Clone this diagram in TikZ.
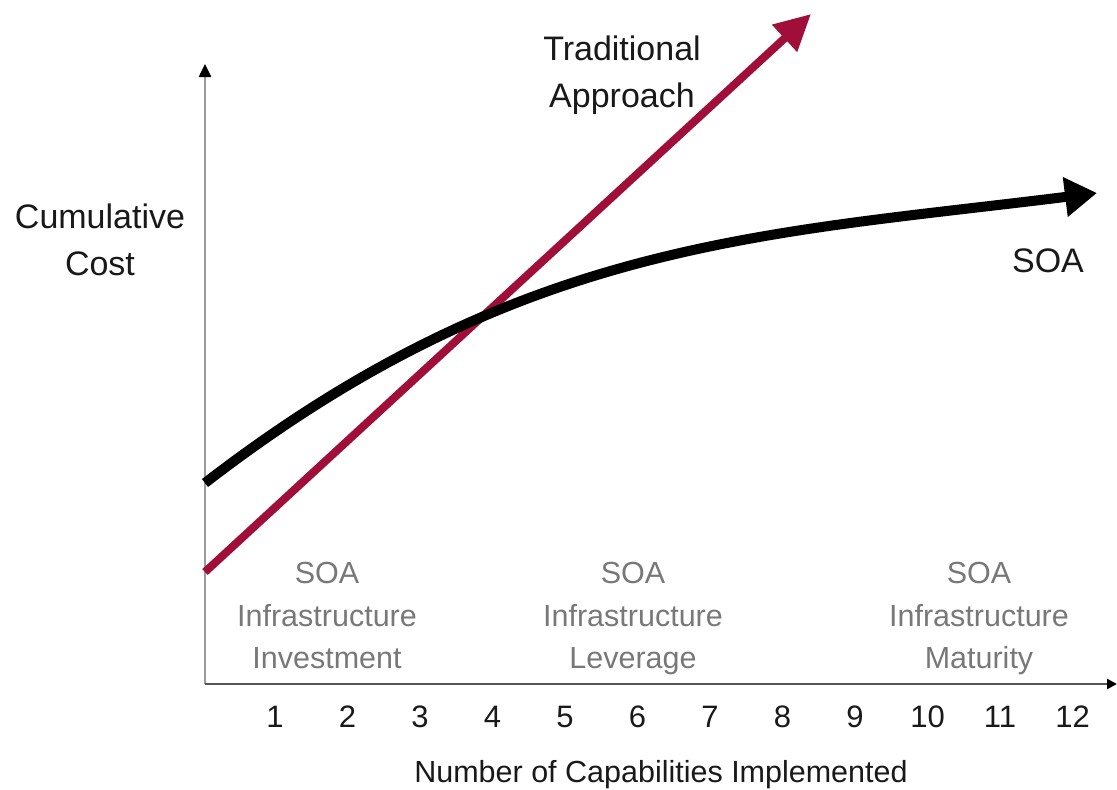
\documentclass[tikz,border=0pt]{standalone}
\usepackage{fontspec}
\setmainfont{Liberation Sans}
\usetikzlibrary{arrows.meta}
\definecolor{tradred}{RGB}{160,14,58}
\definecolor{axisgray}{RGB}{155,155,155}
\definecolor{xaxisgray}{RGB}{85,85,85}
\definecolor{phasegray}{RGB}{120,120,120}
\definecolor{labelblack}{RGB}{25,25,25}
\begin{document}
\begin{tikzpicture}[x=1pt,y=-1pt,
  lbl/.style={inner sep=0pt, anchor=base, text=labelblack, font=\fontsize{34}{40}\selectfont},
  phase/.style={inner sep=0pt, anchor=base, text=phasegray, font=\fontsize{30.5}{36}\selectfont},
  ticklbl/.style={inner sep=0pt, anchor=base, text=labelblack, font=\fontsize{31}{36}\selectfont},
  axislbl/.style={inner sep=0pt, anchor=base, text=labelblack, font=\fontsize{30.5}{36}\selectfont},
  yaxis/.style={draw=axisgray, line width=2.5pt, -{Triangle[length=13pt,width=12pt,color=black]}},
  xaxis/.style={draw=xaxisgray, line width=2.5pt, -{Triangle[length=10pt,width=10pt,color=black]}},
  soacurve/.style={draw=black, line width=10pt, -{Triangle[length=32pt,width=38pt]}},
  tradline/.style={draw=tradred, line width=8pt, -{Triangle[length=36pt,width=35pt]}}
]
\useasboundingbox (0,0) rectangle (1117,790);

% axes
\coordinate (origin) at (205,684);
\coordinate (ytop) at (205,64);
\coordinate (xend) at (1117,684);
\draw[yaxis] (origin) -- (ytop);
\draw[xaxis] (origin) -- (xend);

% traditional approach line
\coordinate (tstart) at (205,572);
\coordinate (tend) at (811,14);
\draw[tradline] (tstart) -- (tend);

% SOA curve
\coordinate (sstart) at (205,483);
\coordinate (send) at (1097,193);
\draw[soacurve] (sstart) .. controls (520,240) and (760,235) .. (send);

% labels
\node[lbl] (cum1) at (100,228) {Cumulative};
\node[lbl] (cum2) at (100,275) {Cost};
\node[lbl] (trad1) at (622,60) {Traditional};
\node[lbl] (trad2) at (622,107) {Approach};
\node[lbl] (soa) at (1048,272) {SOA};

% phase labels
\node[phase] (inv1) at (327,583) {SOA};
\node[phase] (inv2) at (327,626) {Infrastructure};
\node[phase] (inv3) at (327,668) {Investment};
\node[phase] (lev1) at (633,583) {SOA};
\node[phase] (lev2) at (633,626) {Infrastructure};
\node[phase] (lev3) at (633,668) {Leverage};
\node[phase] (mat1) at (979,583) {SOA};
\node[phase] (mat2) at (979,626) {Infrastructure};
\node[phase] (mat3) at (979,668) {Maturity};

% ticks
\foreach \n in {1,...,12} {
  \node[ticklbl] (t\n) at ({275+72.5*(\n-1)},727) {\n};
}
\node[axislbl] (xlabel) at (661,782) {Number of Capabilities Implemented};
\end{tikzpicture}
\end{document}
